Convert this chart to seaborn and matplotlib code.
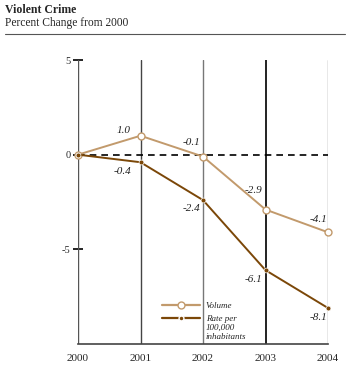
from matplotlib import pyplot as plt
from matplotlib.lines import Line2D
import pandas as pd
import seaborn

years=[2000,2001,2002,2003,2004]
volume=[0.0,1.0,-0.1,-2.9,-4.1]
rate=[0.0,-0.4,-2.4,-6.1,-8.1]
y_ticks=[5,0,-5]

VOL_COLOR='#c29a6c'
RATE_COLOR='#7b4708'

seaborn.set_style('white')
plt.rcParams['font.family']=['Liberation Serif','DejaVu Serif']

fig=plt.figure(figsize=(3.5,3.72),dpi=100)
ax=fig.add_axes([78/350,1-344/372,250/350,284/372])

# vertical year lines
grid_colors=['#555555','#444444','#777777','#111111','#8a8a8a']
for yr,c in zip(years,grid_colors):
    ax.axvline(yr,color=c,lw=1.0 if yr!=2003 else 1.3,zorder=1)
ax.axhline(0,color='black',lw=1.2,ls=(0,(4,3)),zorder=2)

df=pd.DataFrame({'year':years+years,
                 'value':volume+rate,
                 'series':['Volume']*5+['Rate']*5})
seaborn.lineplot(data=df[df.series=='Volume'],x='year',y='value',color=VOL_COLOR,lw=1.4,
                 marker='o',markersize=5,markerfacecolor='white',markeredgecolor=VOL_COLOR,
                 markeredgewidth=1.0,ax=ax,zorder=4,clip_on=False)
seaborn.lineplot(data=df[df.series=='Rate'],x='year',y='value',color=RATE_COLOR,lw=1.4,
                 marker='o',markersize=3.5,markerfacecolor=RATE_COLOR,markeredgecolor='white',
                 markeredgewidth=0.5,ax=ax,zorder=4,clip_on=False)

# value labels
vol_off=[None,(-12,4),(-8,10),(-9,14),(-7,9)]
rate_off=[None,(-13,-7),(-8,-6),(-9,-7),(-7,-7)]
for i in range(1,5):
    ax.annotate(f'{volume[i]:.1f}',(years[i],volume[i]),xytext=vol_off[i],textcoords='offset points',
                ha='center',va='center',fontsize=8,style='italic',color='#222222')
    ax.annotate(f'{rate[i]:.1f}',(years[i],rate[i]),xytext=rate_off[i],textcoords='offset points',
                ha='center',va='center',fontsize=8,style='italic',color='#222222')

ax.set_xlim(2000,2004)
ax.set_ylim(-10,5)
ax.set_xticks(years)
ax.set_xticklabels([str(y) for y in years],fontsize=8)
ax.set_yticks(y_ticks)
ax.set_yticklabels([str(t) for t in y_ticks],fontsize=7.5)
ax.tick_params(axis='y',left=True,direction='inout',length=7,width=1.2,color='black',pad=2)
ax.tick_params(axis='x',bottom=False,length=0,pad=7)
ax.set_xlabel('')
ax.set_ylabel('')
for s in ['top','right','left']:
    ax.spines[s].set_visible(False)
ax.spines['bottom'].set_color('#444444')
ax.spines['bottom'].set_linewidth(1.2)

handles=[Line2D([],[],color=VOL_COLOR,lw=1.6,marker='o',markersize=5,markerfacecolor='white',markeredgecolor=VOL_COLOR),
         Line2D([],[],color=RATE_COLOR,lw=1.6,marker='o',markersize=3.5,markerfacecolor=RATE_COLOR,markeredgecolor='white')]
leg=ax.legend(handles,['Volume','Rate per'],loc='upper left',bbox_to_anchor=(0.305,0.178),
              frameon=False,handlelength=4.2,handletextpad=0.6,labelspacing=0.55,
              prop={'family':'Liberation Serif','style':'italic','size':6.5})
ax.text((206-78)/250,(344-324)/284,'100,000\ninhabitants',transform=ax.transAxes,
        ha='left',va='top',fontsize=6.5,style='italic',linespacing=1.2)

fig.text(5/350,1-10/372,'Violent Crime',fontsize=8.5,fontweight='bold',va='center')
fig.text(5/350,1-23/372,'Percent Change from 2000',fontsize=8.3,va='center')
fig.add_artist(Line2D([5/350,345/350],[1-34/372,1-34/372],color='#555555',lw=0.8))

plt.savefig('out.png',dpi=100)
